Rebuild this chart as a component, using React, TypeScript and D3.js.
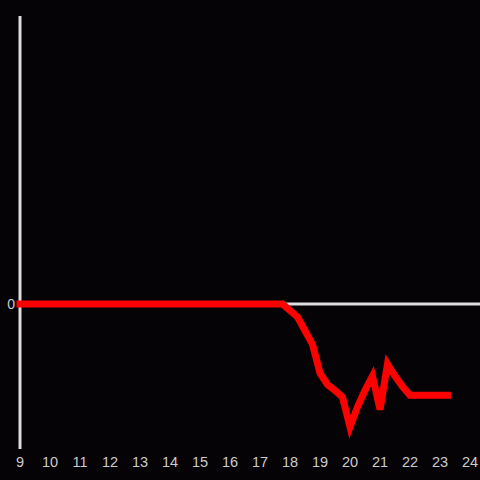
import React from "react";
import * as d3 from "d3";

const hours = [9, 10, 11, 12, 13, 14, 15, 16, 17, 17.75, 18.25, 18.75, 19.0, 19.25, 19.5, 19.75, 20.0, 20.25, 20.5, 20.75, 21.0, 21.25, 21.5, 21.75, 22.0, 22.5, 23.0, 23.25];
const values = [0, 0, 0, 0, 0, 0, 0, 0, 0, 0, -0.135, -0.42, -0.72, -0.84, -0.9, -0.97, -1.28, -1.07, -0.9, -0.75, -1.1, -0.625, -0.75, -0.86, -0.95, -0.95, -0.95, -0.95];
const xTicks = [9, 10, 11, 12, 13, 14, 15, 16, 17, 18, 19, 20, 21, 22, 23, 24];
const yTicks = [0];

export default function App() {
  const W = 480, H = 480;
  const x = d3.scaleLinear().domain([9, 24]).range([20, 470]);
  const y = d3.scaleLinear().domain([-1.5, 3]).range([448, 16]);
  const line = d3.line<number>().x((_, i) => x(hours[i])).y((d) => y(d));
  const path = line(values) || "";
  return (
    <svg width={W} height={H} style={{ position: "absolute", left: 0, top: 0, background: "#050305" }}>
      <rect x={0} y={0} width={W} height={H} fill="#050305" />
      <line x1={x(9)} x2={x(9)} y1={16} y2={449} stroke="#dddddd" strokeWidth={3} />
      <line x1={x(9)} x2={W} y1={y(0)} y2={y(0)} stroke="#dddddd" strokeWidth={3} />
      {yTicks.map((t) => (
        <text key={t} x={15} y={y(t) + 5} textAnchor="end" fill="#cccccc" fontSize={14} fontFamily="Liberation Sans, Arial, sans-serif">{t}</text>
      ))}
      {xTicks.map((t) => (
        <text key={t} x={x(t)} y={467} textAnchor="middle" fill="#cccccc" fontSize={14.5} fontFamily="Liberation Sans, Arial, sans-serif">{t}</text>
      ))}
      <path d={path} fill="none" stroke="#ff0000" strokeWidth={7} strokeLinejoin="miter" strokeLinecap="square" />
    </svg>
  );
}
